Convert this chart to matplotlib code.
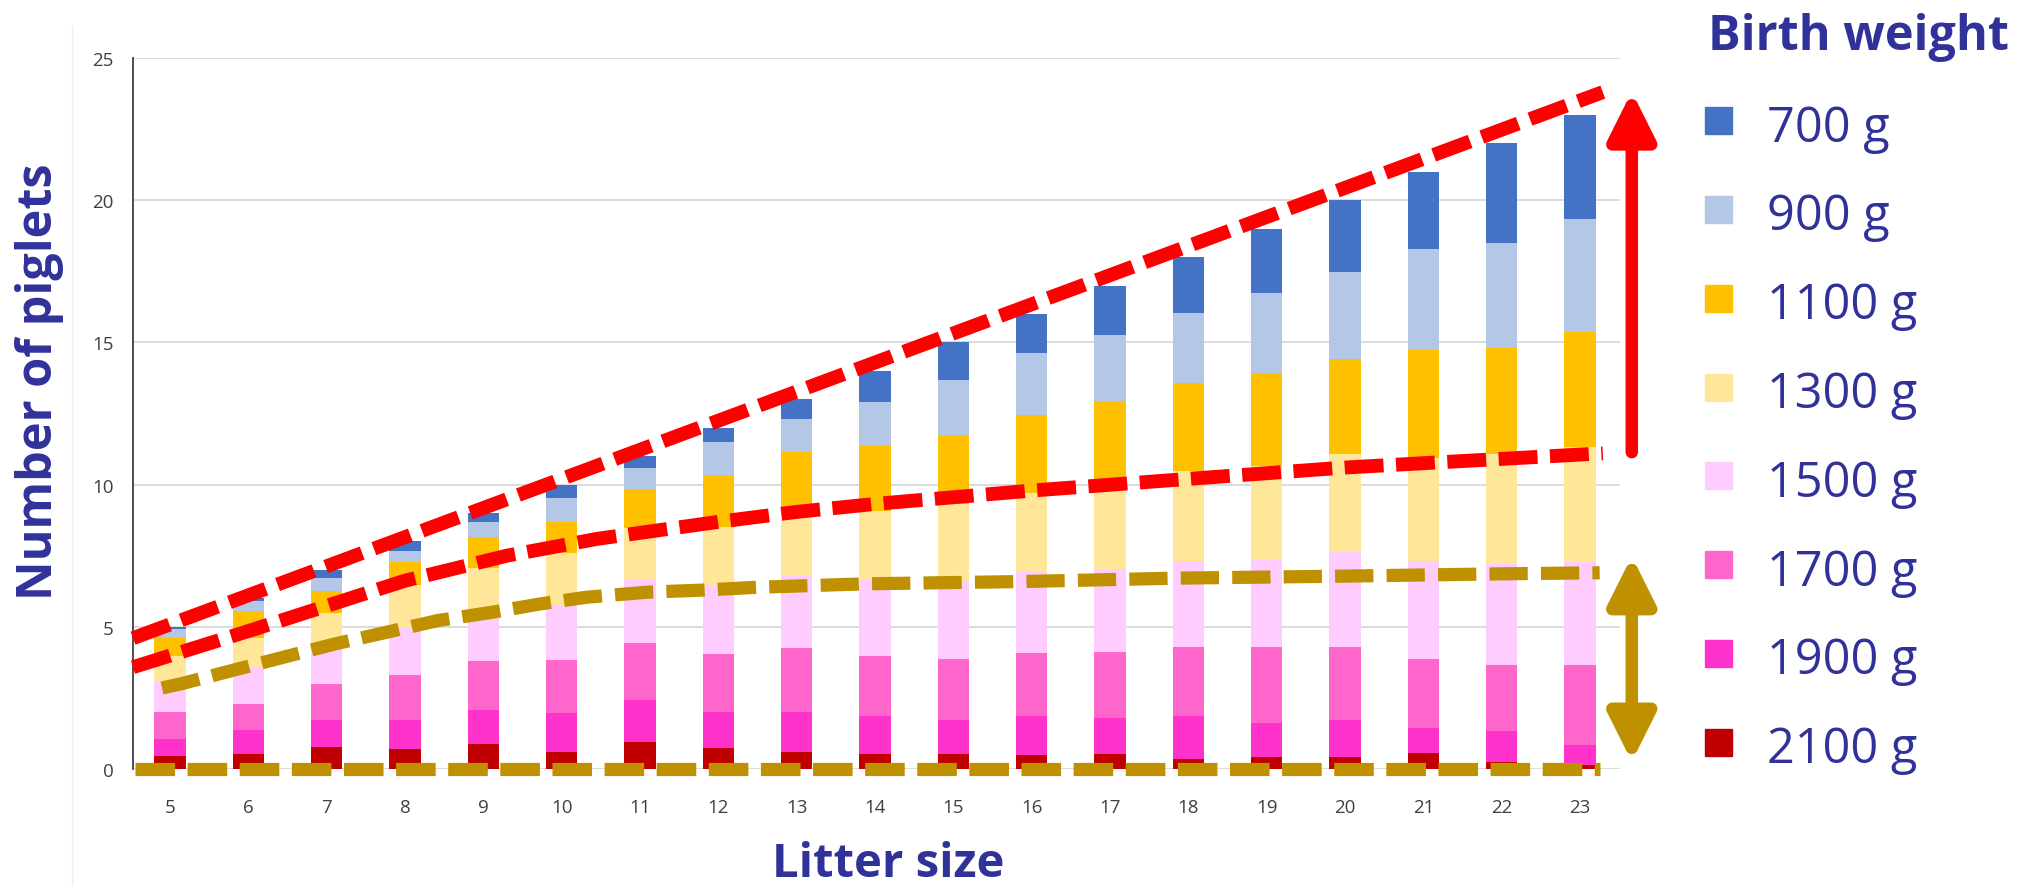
import numpy as np
import matplotlib.pyplot as plt

# litter sizes on the x axis
litter = np.arange(5, 24)

# piglets per birth-weight class (stack order bottom -> top)
w2100 = [0.44, 0.51, 0.78, 0.70, 0.87, 0.60, 0.95, 0.74, 0.60, 0.51, 0.51, 0.48, 0.51, 0.36, 0.42, 0.42, 0.56, 0.25, 0.15]
w1900 = [0.60, 0.85, 0.93, 1.01, 1.22, 1.37, 1.46, 1.28, 1.42, 1.34, 1.23, 1.37, 1.29, 1.49, 1.21, 1.32, 0.88, 1.07, 0.68]
w1700 = [0.98, 0.91, 1.27, 1.58, 1.71, 1.88, 2.01, 2.02, 2.23, 2.14, 2.13, 2.23, 2.33, 2.45, 2.67, 2.56, 2.43, 2.35, 2.81]
w1500 = [1.03, 1.29, 1.32, 1.72, 1.54, 1.92, 2.26, 2.39, 2.53, 2.66, 2.70, 2.84, 2.91, 3.03, 3.09, 3.34, 3.46, 3.54, 3.63]
w1300 = [0.91, 1.06, 1.19, 1.46, 1.73, 1.83, 1.78, 2.07, 2.36, 2.41, 2.75, 2.78, 3.04, 3.16, 3.25, 3.43, 3.60, 3.86, 4.04]
w1100 = [0.64, 0.95, 0.78, 0.82, 1.10, 1.10, 1.39, 1.84, 1.99, 2.28, 2.42, 2.74, 2.85, 3.07, 3.27, 3.34, 3.80, 3.72, 4.04]
w900 = [0.33, 0.35, 0.45, 0.39, 0.53, 0.83, 0.73, 1.17, 1.17, 1.57, 1.93, 2.17, 2.32, 2.49, 2.84, 3.05, 3.57, 3.69, 4.00]
w700 = [0.07, 0.08, 0.28, 0.32, 0.30, 0.47, 0.42, 0.49, 0.70, 1.09, 1.33, 1.39, 1.75, 1.95, 2.25, 2.54, 2.70, 3.52, 3.65]

series = [w2100, w1900, w1700, w1500, w1300, w1100, w900, w700]
labels = ["2100 g", "1900 g", "1700 g", "1500 g", "1300 g", "1100 g", "900 g", "700 g"]
colors = ["#C00000", "#FF33CC", "#FF66CC", "#FFCCFF", "#FFE699", "#FFC000", "#B4C7E7", "#4472C4"]

# hand-drawn overlay lines
upper_x = [4.53, 23.29]
upper_y = [4.60, 23.8]
lower_x = [4.53, 6.06, 8.0, 9.3, 10.45, 12.0, 13.0, 14.0, 16.0, 18.0, 20.0, 23.29]
lower_y = [3.58, 4.90, 6.62, 7.50, 8.09, 8.69, 9.04, 9.32, 9.79, 10.2, 10.6, 11.1]
gold_x = [4.9, 5.15, 5.79, 6.45, 7.11, 7.77, 8.42, 9.11, 9.74, 10.32, 11.11, 11.80, 12.5, 13.87, 15.85, 17.83, 19.95, 21.93, 23.25]
gold_y = [2.85, 3.00, 3.46, 3.93, 4.40, 4.81, 5.22, 5.51, 5.81, 6.04, 6.22, 6.29, 6.39, 6.51, 6.59, 6.71, 6.78, 6.86, 6.90]

navy = "#30329A"
red = "#FF0000"
gold = "#BF9000"

plt.rcParams['font.family'] = ['Open Sans', 'DejaVu Sans']

fig = plt.figure(figsize=(20.37, 8.87), dpi=100)
ax = fig.add_axes([0.0653, 0.1319, 0.7300, 0.8016])

bottom = np.zeros(len(litter))
for vals, col in zip(series, colors):
    ax.bar(litter, vals, bottom=bottom, width=0.4, color=col, linewidth=0, zorder=2)
    bottom += np.array(vals)

ax.set_xlim(4.53, 23.51)
ax.set_ylim(0, 25)
ax.set_yticks(range(0, 26, 5))
ax.set_xticks(litter)
ax.grid(axis='y', color='#D9D9D9', linewidth=1.3, zorder=0)
ax.set_axisbelow(True)
for s in ['top', 'right', 'bottom']:
    ax.spines[s].set_visible(False)
ax.spines['left'].set_color('#404040')
ax.spines['left'].set_linewidth(1.3)
ax.tick_params(axis='both', length=0, labelsize=13.5, labelcolor='#404040')
ax.tick_params(axis='x', pad=21)
ax.tick_params(axis='y', pad=14)

lw = 10.0
ax.plot(upper_x, upper_y, color=red, lw=lw, dashes=(2.8, 0.9), zorder=5, clip_on=False)
ax.plot(lower_x, lower_y, color=red, lw=lw, dashes=(2.8, 0.9), zorder=5, clip_on=False)
ax.plot(gold_x, gold_y, color=gold, lw=9.5, dashes=(2.9, 1.0), zorder=5, clip_on=False)
ax.plot([4.55, 23.26], [0, 0], color=gold, lw=9.5, dashes=(3.0, 0.95), zorder=5, clip_on=False)

# arrows on the right of the bars
ax.annotate('', xy=(23.66, 23.82), xytext=(23.66, 11.14),
            arrowprops=dict(arrowstyle='-|>,head_length=28,head_width=14', mutation_scale=1,
                            color=red, lw=9, shrinkA=0, shrinkB=0), annotation_clip=False)
ax.annotate('', xy=(23.66, 0.26), xytext=(23.66, 7.48),
            arrowprops=dict(arrowstyle='<|-|>,head_length=28,head_width=14', mutation_scale=1,
                            color=gold, lw=9, shrinkA=0, shrinkB=0), annotation_clip=False)

# axis titles
fig.text(40 / 2037, 1 - 382 / 887, "Number of piglets", rotation=90, ha='center', va='center',
         fontsize=35, fontweight='bold', color=navy)
fig.text(888 / 2037, 10 / 887, "Litter size", ha='center', va='baseline',
         fontsize=34, fontweight='bold', color=navy)

# legend built by hand
fig.text(1708 / 2037, 1 - 50 / 887, "Birth weight", ha='left', va='baseline',
         fontsize=35, fontweight='bold', color=navy)
for i, (lab, col) in enumerate(zip(labels[::-1], colors[::-1])):
    base = 141.7 + 88.8 * i
    fig.patches.append(plt.Rectangle(((1718 - 13.5) / 2037, 1 - (base - 20 + 13.5) / 887),
                                     27 / 2037, 27 / 887, transform=fig.transFigure,
                                     color=col, figure=fig))
    fig.text(1767 / 2037, 1 - base / 887, lab, ha='left', va='baseline',
             fontsize=35, color=navy)

# faint scan edge at far left
fig.add_artist(plt.Line2D([72 / 2037, 72 / 2037], [0, 0.97], color='#EEEEEE', lw=1))

fig.savefig('out.png', dpi=100)
